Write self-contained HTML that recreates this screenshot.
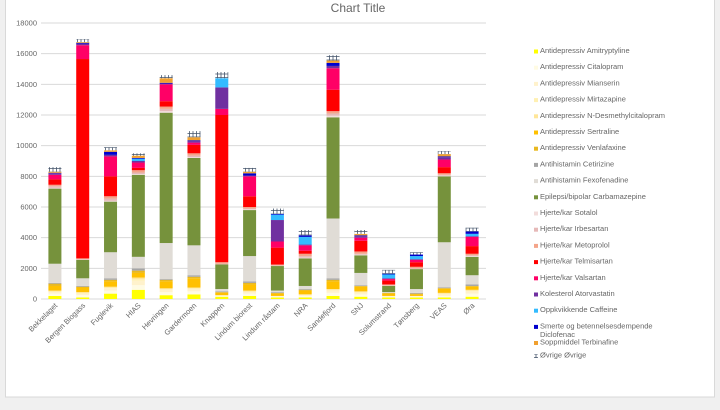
<!DOCTYPE html>
<html><head><meta charset="utf-8"><style>
html,body{margin:0;padding:0;background:#f0f0f0;}
body{width:720px;height:405px;overflow:hidden;font-family:"Liberation Sans",sans-serif;}
svg text{font-family:"Liberation Sans",sans-serif;}
</style></head><body>
<svg id="chart" width="720" height="405" xmlns="http://www.w3.org/2000/svg">
<defs>
<pattern id="hatch" width="3.5" height="3.5" patternUnits="userSpaceOnUse">
<rect width="3.5" height="3.5" fill="#fff"/><path d="M0 0.5H3.5M0.5 0V3.5" stroke="#44546a" stroke-width="0.8"/>
</pattern>
</defs>
<rect x="5.5" y="-1" width="709" height="398" fill="#fff" stroke="#d9d9d9"/>
<text x="358" y="12" text-anchor="middle" font-size="12" fill="#666">Chart Title</text>
<g id="grid"></g><g id="bars"></g><g id="xl"></g><g id="legend"></g>
</svg>
<script>
const categories=["Bekkelaget","Bergen Biogass","Fuglevik","HIAS","Hevringen","Gardermoen","Knappen","Lindum biorest","Lindum råstam","NRA","Sandefjord","SNJ","Solumstrand","Tønsberg","VEAS","Øra"];
const seriesNames=["Antidepressiv Amitryptyline","Antidepressiv Citalopram","Antidepressiv Mianserin","Antidepressiv Mirtazapine","Antidepressiv N-Desmethylcitalopram","Antidepressiv Sertraline","Antidepressiv Venlafaxine","Antihistamin Cetirizine","Antihistamin Fexofenadine","Epilepsi/bipolar Carbamazepine","Hjerte/kar Sotalol","Hjerte/kar Irbesartan","Hjerte/kar Metoprolol","Hjerte/kar Telmisartan","Hjerte/kar Valsartan","Kolesterol Atorvastatin","Oppkvikkende Caffeine","Smerte og betennelsesdempende Diclofenac","Soppmiddel Terbinafine","Øvrige Øvrige"];
const colors=["#ffff00","#fffbe3","#fff2cc","#fff0b3","#ffe699","#ffc000","#e8b820","#a5a5a5","#e0dcd6","#76923c","#f2dcdb","#e6b9b8","#f4a58a","#ff0000","#ff0066","#7030a0","#33bbff","#0000cc","#f0a030","url(#hatch)"];
const amit=[200,100,350,600,250,300,150,200,100,100,200,150,100,100,100,150];
const cital=[150,150,200,300,200,200,50,150,50,100,200,150,50,50,100,200];
const mians=[100,100,150,300,150,150,50,100,50,100,150,100,50,50,100,150];
const mirt=[50,50,50,100,50,50,0,50,0,0,50,50,0,0,50,50];
const ndes=[50,50,50,100,50,50,0,50,0,0,50,50,0,0,50,50];
const sert=[300,300,350,300,450,600,150,400,150,250,500,300,150,100,300,200];
const venl=[150,50,100,150,100,100,50,100,50,50,100,50,50,50,0,50];
const cetir=[50,50,100,150,50,100,50,100,50,50,100,50,0,50,50,100];
const fexo=[1250,500,1700,750,2350,1950,150,1650,100,200,3900,800,50,250,2950,600];
const carba=[4900,1200,3300,5350,8500,5700,1600,3000,1600,1800,6600,1150,400,1300,4300,1200];
const sotal=[50,0,50,50,100,50,0,50,0,50,100,50,0,0,50,50];
const irbes=[100,50,150,100,150,100,50,50,50,100,150,50,50,50,50,50];
const metop=[100,50,150,150,150,150,100,100,50,150,150,150,50,100,100,100];
const telmi=[350,13000,1300,150,350,550,9600,700,1100,200,1400,700,250,300,400,500];
const valsa=[300,900,1300,350,1100,150,400,1300,400,350,1400,200,100,150,500,600];
const atorv=[100,100,100,100,50,100,1400,50,1400,50,150,100,50,50,150,50];
const caff=[0,0,0,150,0,0,600,0,350,500,0,0,250,200,0,150];
const diclo=[30,50,200,50,50,50,0,150,50,100,200,50,50,100,50,150];
const terb=[70,50,100,150,300,200,0,100,0,0,150,100,0,0,150,0];
const ovr=[300,200,200,150,200,400,400,250,350,350,350,250,250,150,200,250];
const series=[amit,cital,mians,mirt,ndes,sert,venl,cetir,fexo,carba,sotal,irbes,metop,telmi,valsa,atorv,caff,diclo,terb,ovr];
const yTicks=[0,2000,4000,6000,8000,10000,12000,14000,16000,18000];
const NS="http://www.w3.org/2000/svg";
const X0=41,X1=486,Y0=299,Y1=23,YMAX=18000;
const y=v=>Y0-(v/YMAX)*(Y0-Y1);
const band=(X1-X0)/categories.length;
const xc=i=>X0+band*(i+0.5);
function mk(t,a,p){const e=document.createElementNS(NS,t);for(const k in a)e.setAttribute(k,a[k]);p.appendChild(e);return e;}
const grid=document.getElementById('grid');
yTicks.forEach(t=>{
 const l=mk('line',{x1:X0,x2:X1,y1:y(t),y2:y(t),stroke:'#d9d9d9','stroke-width':1},grid);
 
 
 const tx=mk('text',{x:37,y:y(t)+2.5,'text-anchor':'end','font-size':7.5,fill:'#666'},grid);
 tx.textContent=t;
 
 
});
const bars=document.getElementById('bars');
categories.forEach((c,i)=>{
 let acc=0;
 series.forEach((s,k)=>{
  const v=s[i]; if(!v) return;
  const r=mk('rect',{x:xc(i)-6.5,width:13,y:y(acc+v),height:y(acc)-y(acc+v),fill:colors[k]},bars);
  
  
  acc+=v;
 });
 const tx=mk('text',{transform:`translate(${xc(i)+3},${Y0+7}) rotate(-45)`,'text-anchor':'end','font-size':7.5,fill:'#666'},document.getElementById('xl'));
 tx.textContent=c;
 
 
});
const lg=document.getElementById('legend');
seriesNames.forEach((n,k)=>{
 let ty=53+16.2*k; if(k===18) ty=344.5; if(k===19) ty=357.5;
 const g=mk('g',{},lg);
 
 
 mk('rect',{x:534,y:ty-3.5,width:4,height:4,fill:colors[k]},g);
 if(k===17){
  const t1=mk('text',{x:540,y:ty,'font-size':7.5,fill:'#666'},g);t1.textContent='Smerte og betennelsesdempende';
  const t2=mk('text',{x:540,y:ty+8.5,'font-size':7.5,fill:'#666'},g);t2.textContent='Diclofenac';
 } else {
  const t=mk('text',{x:540,y:ty,'font-size':7.5,fill:'#666'},g);t.textContent=n;
 }
});
</script>
</body></html>
